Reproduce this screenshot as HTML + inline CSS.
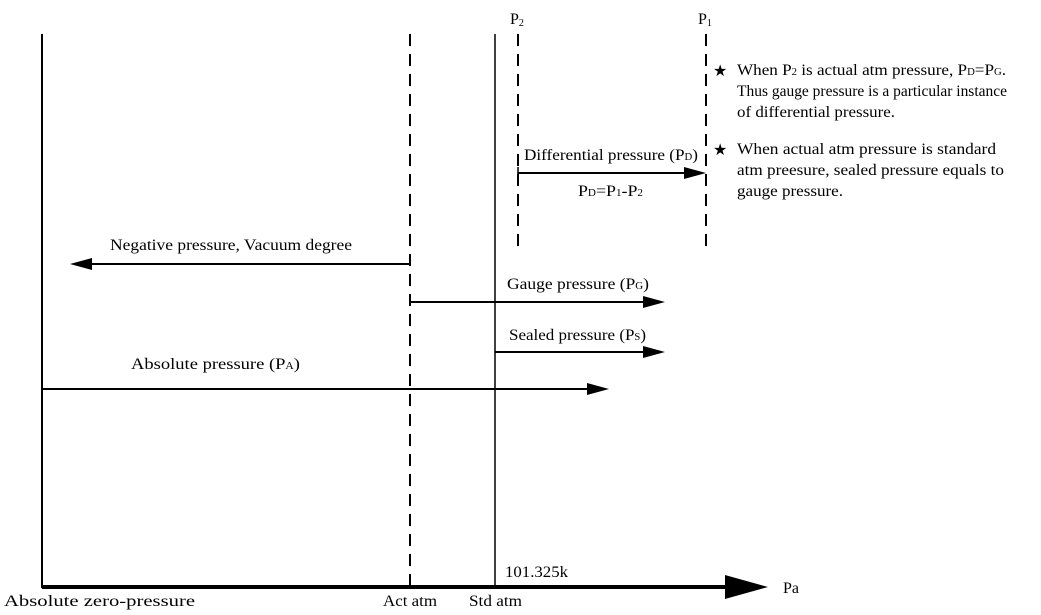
<!DOCTYPE html>
<html><head><style>
html,body{margin:0;padding:0;background:#fff;}
svg text{font-family:"Liberation Serif",serif;font-size:16px;fill:#000;}
.s{font-size:10px;}
</style></head><body>
<svg width="1041" height="610" viewBox="0 0 1041 610" xmlns="http://www.w3.org/2000/svg">
<g stroke="#000" fill="none">
<line x1="42" y1="34" x2="42" y2="588" stroke-width="2"/>
<line x1="495" y1="34" x2="495" y2="588" stroke-width="1.5"/>
<line x1="410" y1="34" x2="410" y2="588" stroke-width="2" stroke-dasharray="12,8"/>
<line x1="518" y1="34" x2="518" y2="250" stroke-width="2" stroke-dasharray="12,8"/>
<line x1="706" y1="34" x2="706" y2="250" stroke-width="2" stroke-dasharray="12,8"/>
<line x1="42" y1="587" x2="730" y2="587" stroke-width="4"/>
<line x1="518" y1="173" x2="690" y2="173" stroke-width="2"/>
<line x1="518" y1="167" x2="518" y2="179" stroke-width="1.5"/>
<line x1="410" y1="264" x2="88" y2="264" stroke-width="2"/>
<line x1="410" y1="302" x2="648" y2="302" stroke-width="2"/>
<line x1="495" y1="352" x2="648" y2="352" stroke-width="2"/>
<line x1="42" y1="389" x2="592" y2="389" stroke-width="2"/>
</g>
<g fill="#000">
<polygon points="725,575 768,587 725,599"/>
<polygon points="684,167 706,173 684,179"/>
<polygon points="92,258 70,264 92,270"/>
<polygon points="643,296 665,302 643,308"/>
<polygon points="643,346 665,352 643,358"/>
<polygon points="587,383 609,389 587,395"/>
</g>
<text x="510" y="24">P<tspan class="s" dy="2">2</tspan></text>
<text x="698" y="24">P<tspan class="s" dy="2">1</tspan></text>
<text x="713" y="76" font-size="20">★</text>
<text x="737" y="75" textLength="269" lengthAdjust="spacingAndGlyphs">When P<tspan class="s">2</tspan> is actual atm pressure, P<tspan class="s">D</tspan>=P<tspan class="s">G</tspan>.</text>
<text x="737" y="96" textLength="270" lengthAdjust="spacingAndGlyphs">Thus gauge pressure is a particular instance</text>
<text x="737" y="117" textLength="158" lengthAdjust="spacingAndGlyphs">of differential pressure.</text>
<text x="713" y="155" font-size="20">★</text>
<text x="737" y="154" textLength="259" lengthAdjust="spacingAndGlyphs">When actual atm pressure is standard</text>
<text x="737" y="175" textLength="267" lengthAdjust="spacingAndGlyphs">atm preesure, sealed pressure equals to</text>
<text x="737" y="196" textLength="106" lengthAdjust="spacingAndGlyphs">gauge pressure.</text>
<text x="524" y="160" textLength="174" lengthAdjust="spacingAndGlyphs">Differential pressure (P<tspan class="s">D</tspan>)</text>
<text x="578" y="196" textLength="65" lengthAdjust="spacingAndGlyphs">P<tspan class="s">D</tspan>=P<tspan class="s">1</tspan>-P<tspan class="s">2</tspan></text>
<text x="110" y="250" textLength="242" lengthAdjust="spacingAndGlyphs">Negative pressure, Vacuum degree</text>
<text x="507" y="289" textLength="142" lengthAdjust="spacingAndGlyphs">Gauge pressure (P<tspan class="s">G</tspan>)</text>
<text x="509" y="340" textLength="137" lengthAdjust="spacingAndGlyphs">Sealed pressure (P<tspan class="s">S</tspan>)</text>
<text x="131" y="369" textLength="169" lengthAdjust="spacingAndGlyphs">Absolute pressure (P<tspan class="s" font-size="8">A</tspan>)</text>
<text x="505" y="577" textLength="63" lengthAdjust="spacingAndGlyphs">101.325k</text>
<text x="783" y="593">Pa</text>
<text x="4" y="606" textLength="191" lengthAdjust="spacingAndGlyphs">Absolute zero-pressure</text>
<text x="383" y="606" textLength="54" lengthAdjust="spacingAndGlyphs">Act atm</text>
<text x="469" y="606" textLength="53" lengthAdjust="spacingAndGlyphs">Std atm</text>
</svg>
</body></html>
